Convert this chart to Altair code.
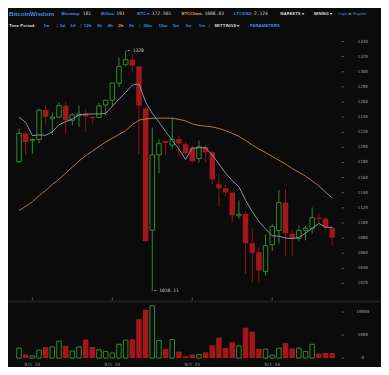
import altair as alt
import pandas as pd

# ---------------- data ----------------
start = pd.Timestamp("2013-10-22 20:00")
n = 48
times = [start + pd.Timedelta(hours=2 * i) for i in range(n)]

opens = [1180.9, 1218.4, 1208.7, 1210.4, 1249.2, 1237.8, 1240.0, 1255.2, 1235.7, 1242.0,
         1245.0, 1240.4, 1239.5, 1256.0, 1262.3, 1284.7, 1309.2, 1315.9, 1307.1, 1251.4,
         1090.5, 1190.2, 1208.3, 1203.0, 1211.0, 1204.0, 1200.0, 1185.1, 1200.7, 1193.5,
         1151.3, 1146.0, 1140.3, 1109.5, 1112.0, 1073.2, 1061.4, 1035.7, 1071.2, 1090.0,
         1126.9, 1085.9, 1079.5, 1090.2, 1093.0, 1107.0, 1105.7, 1093.0]
highs = [1224.8, 1221.8, 1212.1, 1251.4, 1255.6, 1245.9, 1259.8, 1259.8, 1245.0, 1255.2,
         1251.0, 1240.4, 1259.0, 1262.3, 1285.1, 1318.9, 1328.0, 1324.4, 1307.1, 1253.0,
         1226.0, 1211.0, 1209.0, 1239.6, 1214.6, 1206.6, 1203.0, 1209.0, 1203.0, 1196.0,
         1164.0, 1150.0, 1141.0, 1129.8, 1115.0, 1093.0, 1067.7, 1084.6, 1098.2, 1143.7,
         1145.0, 1091.0, 1096.5, 1096.0, 1120.5, 1113.3, 1108.0, 1096.5]
lows = [1179.6, 1190.2, 1191.0, 1205.8, 1230.2, 1216.3, 1239.1, 1218.4, 1229.0, 1227.0,
        1220.5, 1231.5, 1238.7, 1241.6, 1254.3, 1279.6, 1307.5, 1299.9, 1190.2, 1075.0,
        1010.11, 1165.6, 1190.0, 1198.0, 1188.0, 1189.0, 1179.6, 1180.0, 1179.6, 1151.0,
        1121.3, 1135.0, 1100.7, 1105.7, 1033.0, 1020.5, 1020.5, 1030.6, 1062.7, 1072.8,
        1056.0, 1056.0, 1075.3, 1077.0, 1085.5, 1099.4, 1091.0, 1070.7]
closes = [1218.4, 1207.0, 1210.4, 1249.2, 1240.4, 1240.0, 1255.2, 1236.2, 1242.9, 1244.0,
          1241.0, 1238.7, 1254.7, 1262.3, 1285.1, 1307.1, 1315.9, 1308.3, 1255.2, 1076.2,
          1190.2, 1204.9, 1205.8, 1210.4, 1205.0, 1192.2, 1181.7, 1200.7, 1193.5, 1157.6,
          1145.9, 1140.3, 1110.0, 1111.5, 1073.2, 1060.5, 1037.4, 1069.9, 1095.2, 1126.9,
          1086.4, 1079.5, 1090.2, 1093.0, 1107.0, 1105.7, 1094.0, 1080.4]
volumes = [2160, 770, 500, 1750, 2430, 2430, 3690, 2650, 1540, 2430,
           4040, 2430, 1810, 1460, 1120, 3000, 3900, 4100, 8480, 10560,
           11400, 3830, 1960, 4040, 1400, 420, 770, 770, 1250, 2790,
           4460, 2230, 3480, 2650, 6600, 5770, 2020, 1960, 620, 2160,
           3270, 2080, 2160, 1460, 3000, 980, 1120, 1120]
ma_short = [1240.0, 1233.0, 1215.5, 1216.5, 1216.0, 1220.5, 1230.0, 1234.0, 1237.4, 1242.9,
            1243.8, 1244.2, 1244.2, 1245.0, 1254.3, 1264.0, 1272.5, 1282.2, 1283.9, 1259.8,
            1245.0, 1233.2, 1221.0, 1209.1, 1197.8, 1184.0, 1199.0, 1199.4, 1199.4, 1190.0,
            1178.0, 1166.0, 1156.0, 1148.0, 1130.0, 1115.0, 1102.0, 1092.0, 1083.0, 1082.6,
            1080.0, 1079.3, 1080.8, 1086.7, 1093.0, 1099.4, 1094.3, 1094.0]
ma_long = [1116.3, 1122.0, 1128.0, 1136.0, 1143.0, 1151.0, 1158.0, 1166.0, 1174.0, 1182.0,
           1189.0, 1195.0, 1201.0, 1207.0, 1212.0, 1217.0, 1222.0, 1230.0, 1236.0, 1237.5,
           1238.5, 1238.7, 1238.7, 1238.5, 1237.0, 1235.0, 1231.0, 1229.0, 1228.0, 1227.0,
           1225.0, 1222.0, 1218.5, 1214.5, 1209.0, 1203.0, 1198.0, 1193.0, 1188.0, 1183.0,
           1178.0, 1172.0, 1167.0, 1162.0, 1155.5, 1149.0, 1141.0, 1133.0]

price_ticks = list(range(1020, 1341, 20))
volume_ticks = [0, 5000, 10000]
day_ticks = ["2013-10-23", "2013-10-24", "2013-10-25", "2013-10-26"]
day_labels = ["Oct 23", "Oct 24", "Oct 25", "Oct 26"]
annotation_text = ["\u2190 1328", "\u2190 1010.11"]

header_row1 = [("BitcoinWisdom", "brand"),
               ("Bitstamp:", "label"), ("181", "value"),
               ("MtGox:", "label"), ("191", "value"),
               ("BTC-e:", "label"), ("172.501", "value"),
               ("BTCChina:", "hot"), ("1008.03", "value"),
               ("LTC/USD:", "label"), ("2.124", "value"),
               ("MARKETS \u25be", "menu"), ("MINING \u25be", "menu"),
               ("Login", "small"), ("or", "smallw"), ("Register", "small")]
header_row2 = [("Time Period:", "menu2"), ("1w", "label2"), ("|", "sep"),
               ("3d", "label2"), ("1d", "label2"), ("|", "sep"),
               ("12h", "label2"), ("6h", "label2"), ("4h", "label2"), ("2h", "hot2"), ("1h", "label2"),
               ("|", "sep"),
               ("30m", "label2"), ("15m", "label2"), ("5m", "label2"), ("3m", "label2"), ("1m", "label2"),
               ("|", "sep"), ("SETTINGS \u25be", "menu2"), ("PARAMETERS", "label2")]

# ---------------- layout / style ----------------
SX, SY = 373 / 389, 359 / 375
row1_x = [1, 55.7, 78, 97, 113, 134.7, 150, 181, 205, 235.7, 256.5, 284, 319, 344.7, 354.9, 359.9]
row2_x = [1, 37, 50.7, 54, 65, 75, 79, 93, 104, 115, 126, 137, 141, 157, 172, 185, 199, 209, 215, 252]

BG = "#0b0b0b"
RED = "#a3161a"
RED_WICK = "#8c1517"
GREEN = "#2f8a2f"
GRAY_MA = "#8094a6"
ORANGE_MA = "#ad7b44"
LABEL = "#9a9a9a"
BLUE = "#3d8fe0"
palette = {"brand": BLUE, "label": BLUE, "label2": BLUE, "small": BLUE,
           "value": "#d0d0d0", "smallw": "#d0d0d0",
           "hot": "#e8a33a", "hot2": "#e8a33a", "menu": "#d8d8d8", "menu2": "#d8d8d8",
           "sep": "#555555"}

W = 333.5          # plot width (tick marks start here)
H = 350            # plot height (volume baseline)
x_range = [6.3 * SX, (6.3 + 7.17 * 47) * SX]
price_range = [287.7 * SY, 35 * SY]
vol_range = [365.7 * SY, 317.7 * SY]
LABEL_X = 370 * SX

# ---------------- tables ----------------
df = pd.DataFrame({"time": times, "open": opens, "high": highs, "low": lows,
                   "close": closes, "volume": volumes,
                   "ma_s": ma_short, "ma_l": ma_long})
df["up"] = df["close"] >= df["open"]
df["top"] = df[["open", "close"]].max(axis=1)
df["bot"] = df[["open", "close"]].min(axis=1)

i_hi = int(df["high"].idxmax())
i_lo = int(df["low"].idxmin())
ann = pd.DataFrame({"time": [times[i_hi], times[i_lo]],
                    "price": [highs[i_hi], lows[i_lo]],
                    "label": annotation_text})
pt = pd.DataFrame({"v": price_ticks, "lab": [str(v) for v in price_ticks]})
vt = pd.DataFrame({"v": volume_ticks, "lab": [str(v) for v in volume_ticks]})
days = pd.DataFrame({"time": pd.to_datetime(day_ticks), "lab": day_labels})

xs = alt.Scale(domain=[alt.DateTime(year=2013, month=10, date=22, hours=20),
                       alt.DateTime(year=2013, month=10, date=26, hours=18)],
               range=x_range)
ps = alt.Scale(domain=[1020, 1340], range=price_range, zero=False, nice=False)
vs = alt.Scale(domain=[0, 10000], range=vol_range, zero=True, nice=False)

X = alt.X("time:T", scale=xs, axis=None)
base = alt.Chart(df)
up = base.transform_filter("datum.up")
dn = base.transform_filter("!datum.up")

def PY(f):
    return alt.Y(f, scale=ps, axis=None)

def VY(f):
    return alt.Y(f, scale=vs, axis=None)

wick_up_hi = up.mark_rule(color=GREEN, strokeWidth=1).encode(x=X, y=PY("high:Q"), y2="top:Q")
wick_up_lo = up.mark_rule(color=GREEN, strokeWidth=1).encode(x=X, y=PY("bot:Q"), y2="low:Q")
wick_dn = dn.mark_rule(color=RED_WICK, strokeWidth=1).encode(x=X, y=PY("high:Q"), y2="low:Q")
body_up = up.mark_bar(size=4.5, fill=BG, stroke=GREEN, strokeWidth=1).encode(
    x=X, y=PY("open:Q"), y2="close:Q")
body_dn = dn.mark_bar(size=5.5, fill=RED, strokeWidth=0).encode(
    x=X, y=PY("open:Q"), y2="close:Q")
line_s = base.mark_line(color=GRAY_MA, strokeWidth=1).encode(x=X, y=PY("ma_s:Q"))
line_l = base.mark_line(color=ORANGE_MA, strokeWidth=1).encode(x=X, y=PY("ma_l:Q"))
ann_txt = alt.Chart(ann).mark_text(align="left", baseline="middle", dx=1.5,
                                   font="DejaVu Sans Mono", fontSize=4.6,
                                   color="#cfcfcf").encode(
    x=X, y=PY("price:Q"), text="label:N")
p_ticks = alt.Chart(pt).mark_rule(color="#555555", strokeWidth=1).encode(
    x=alt.value(W), x2=alt.value(W + 2.5), y=PY("v:Q"))
p_labels = alt.Chart(pt).mark_text(align="center", baseline="middle", font="DejaVu Sans Mono",
                                   fontSize=4.3, color=LABEL).encode(
    x=alt.value(LABEL_X), y=PY("v:Q"), text="lab:N")

price_layer = alt.layer(wick_up_hi, wick_up_lo, wick_dn, body_up, body_dn,
                        line_l, line_s, ann_txt, p_ticks, p_labels)

vol_up = up.mark_bar(size=4.5, fill=BG, stroke=GREEN, strokeWidth=1).encode(x=X, y=VY("volume:Q"))
vol_dn = dn.mark_bar(size=5.5, fill=RED, strokeWidth=0).encode(x=X, y=VY("volume:Q"))
v_ticks = alt.Chart(vt).mark_rule(color="#555555", strokeWidth=1).encode(
    x=alt.value(W), x2=alt.value(W + 2.5), y=VY("v:Q"))
v_labels = alt.Chart(vt).mark_text(align="center", baseline="middle", font="DejaVu Sans Mono",
                                   fontSize=4.3, color=LABEL).encode(
    x=alt.value(LABEL_X), y=VY("v:Q"), text="lab:N")
vol_layer = alt.layer(vol_up, vol_dn, v_ticks, v_labels)

# pane separator band, little day ticks on it, and date labels
one = pd.DataFrame({"k": [0]})
sep = alt.Chart(one).mark_rect(color="#1d1d1d").encode(
    x=alt.value(0), x2=alt.value(373), y=alt.value(305.5 * SY), y2=alt.value(308 * SY))
day_tick = alt.Chart(days).mark_rule(color="#555555", strokeWidth=1).encode(
    x=X, y=alt.value(302.5 * SY), y2=alt.value(305.5 * SY))
day_lab = alt.Chart(days).mark_text(align="center", baseline="middle", font="DejaVu Sans Mono",
                                    fontSize=4.3, color=LABEL).encode(
    x=X, y=alt.value(372.6 * SY), text="lab:N")

main = alt.layer(sep, day_tick, day_lab, price_layer, vol_layer).resolve_scale(y="independent")

# header text
hdr = pd.DataFrame(
    [{"text": t, "kind": k, "px": x * SX, "py": 6.2 * SY} for (t, k), x in zip(header_row1, row1_x)] +
    [{"text": t, "kind": k, "px": x * SX, "py": 19 * SY} for (t, k), x in zip(header_row2, row2_x)])
hdr["col"] = hdr["kind"].map(palette)

hx = alt.X("px:Q", scale=None, axis=None)
hy = alt.Y("py:Q", scale=None, axis=None)
hc = alt.Color("col:N", scale=None, legend=None)

def htext(kinds, size, bold=True, font="Liberation Sans"):
    cond = " || ".join(f"datum.kind == '{k}'" for k in kinds)
    return alt.Chart(hdr).transform_filter(cond).mark_text(
        align="left", baseline="middle", font=font, fontSize=size,
        fontWeight="bold" if bold else "normal"
    ).encode(x=hx, y=hy, text="text:N", color=hc)

header = alt.layer(
    htext(["brand"], 6.2),
    htext(["label", "hot", "menu"], 4.1),
    htext(["label2", "hot2", "menu2", "sep"], 4.4),
    htext(["small", "smallw"], 3.6, bold=False),
    htext(["value"], 4.6, bold=False, font="DejaVu Sans Mono"),
)

chart = alt.layer(main, header).resolve_scale(x="independent", y="independent").properties(
    width=W, height=H, background=BG,
    padding={"left": 0, "top": 0, "right": 373 - W, "bottom": 9},
    autosize=alt.AutoSizeParams(type="none"),
).configure_view(stroke=None)

chart.save("out.html", embed_options={"renderer": "svg", "actions": False})
